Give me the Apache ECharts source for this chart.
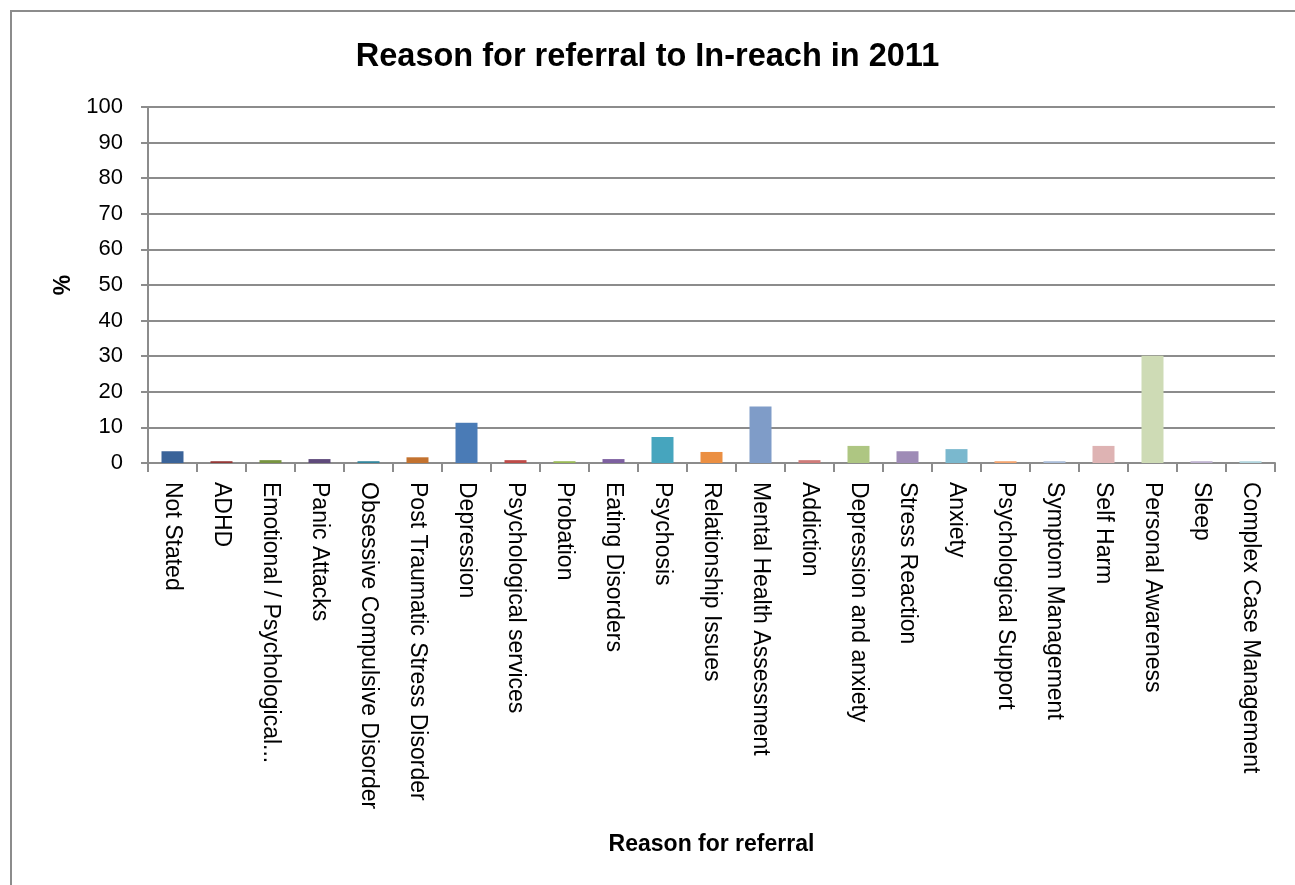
<!DOCTYPE html>
<html><head><meta charset="utf-8">
<script src="https://cdn.jsdelivr.net/npm/echarts@6/dist/echarts.min.js"></script>
<style>html,body{margin:0;padding:0;background:#fff;}#frame{position:absolute;left:10px;top:10px;width:1300px;height:900px;border:2px solid #8c8c8c;box-sizing:border-box;}#c{position:absolute;left:0;top:0;width:1295px;height:885px;}</style>
</head><body><div id="frame"></div><div id="c"></div>
<script>
var categories = ["Not Stated","ADHD","Emotional / Psychological...","Panic Attacks","Obsessive Compulsive Disorder","Post Traumatic Stress Disorder","Depression","Psychological services","Probation","Eating Disorders","Psychosis","Relationship Issues","Mental Health Assessment","Addiction","Depression and anxiety","Stress Reaction","Anxiety","Psychological Support","Symptom Management","Self Harm","Personal Awareness","Sleep","Complex Case Management"];
var values = [3.3,0.5,0.8,1.1,0.5,1.6,11.3,0.8,0.5,1.1,7.3,3.1,15.9,0.8,4.8,3.3,3.9,0.5,0.5,4.8,30.1,0.5,0.5];
var colors = ["#3A6399","#953735","#789440","#5F4A7B","#31859C","#C3722F","#4A7BB6","#BE4B48","#98B954","#7D60A0","#46A5BE","#EB8F42","#7F9CC8","#CF7B79","#AEC682","#9E8BB6","#7AB8CE","#F4A46E","#A9BCD9","#DEB3B3","#CEDBB5","#BCB0CE","#B1D5DE"];
var yTicks = [0,10,20,30,40,50,60,70,80,90,100];
var title = "Reason for referral to In-reach in 2011";
var xName = "Reason for referral";
var yName = "%";

var chart = echarts.init(document.getElementById('c'));
var font = "Liberation Sans";
chart.setOption({
  animation:false,
  title:{text:title,left:'center',top:36,textStyle:{fontFamily:font,fontSize:32.5,fontWeight:'bold',color:'#000'}},
  grid:{left:148,right:20,top:107,bottom:422,containLabel:false},
  xAxis:{type:'category',data:categories,
    axisLine:{lineStyle:{color:'#8c8c8c',width:2}},
    axisTick:{show:true,alignWithLabel:false,length:9,lineStyle:{color:'#8c8c8c',width:2}},
    axisLabel:{rotate:-90,interval:0,color:'#000',fontFamily:font,fontSize:23,margin:19,verticalAlign:'middle',align:'left'},
    name:xName,nameLocation:'middle',nameGap:370,
    nameTextStyle:{fontFamily:font,fontSize:23,fontWeight:'bold',color:'#000'}},
  yAxis:{type:'value',min:0,max:100,interval:10,
    axisLine:{show:true,lineStyle:{color:'#8c8c8c',width:2}},
    axisTick:{show:true,length:7,lineStyle:{color:'#8c8c8c',width:2}},
    splitLine:{lineStyle:{color:'#8c8c8c',width:2}},
    axisLabel:{color:'#000',fontFamily:font,fontSize:22,margin:25,
      formatter:function(v){return yTicks.indexOf(v)>=0?String(v):'';}},
    name:yName,nameLocation:'middle',nameGap:72,nameRotate:90,
    nameTextStyle:{fontFamily:font,fontSize:23,fontWeight:'bold',color:'#000'}},
  series:[{type:'bar',barWidth:22,
    data:values.map(function(v,i){return {value:v,itemStyle:{color:colors[i]}};})}]
});
</script></body></html>
